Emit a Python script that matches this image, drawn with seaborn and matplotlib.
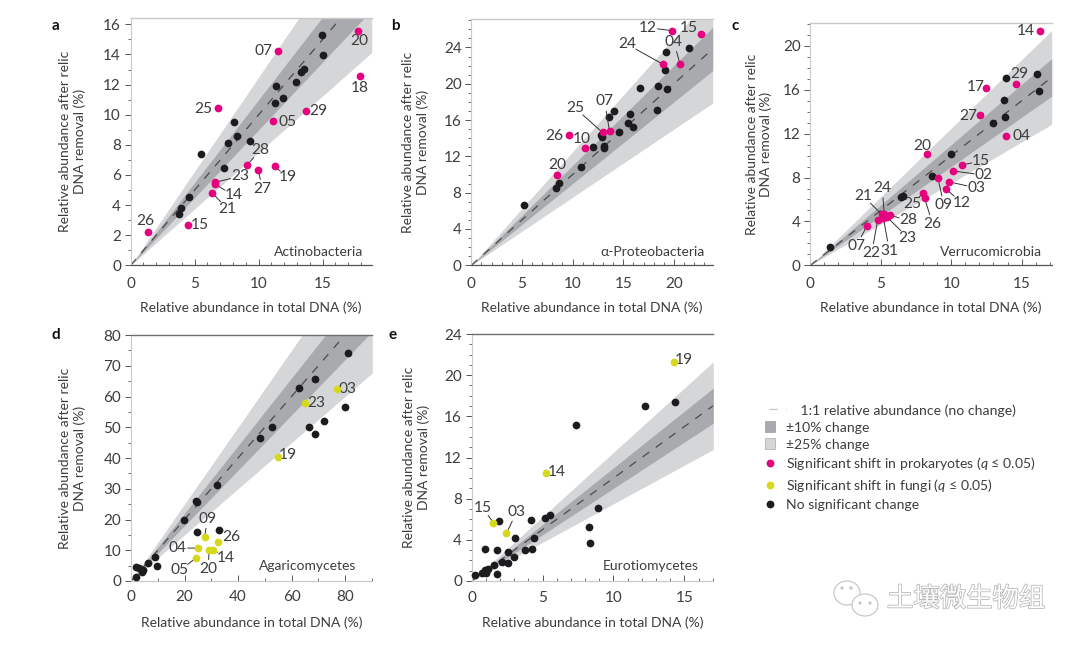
import matplotlib
matplotlib.use("Agg")
import matplotlib.pyplot as plt
import numpy as np
import pandas as pd
import seaborn as sns
from matplotlib.lines import Line2D
from matplotlib.patches import Patch, Ellipse
from matplotlib.legend_handler import HandlerLine2D
from matplotlib.ticker import MultipleLocator
import matplotlib.patheffects as pe

# ---------- data ----------
a_sig_x = [11.48, 17.76, 17.94, 6.8, 13.67, 11.15, 9.09, 11.25, 9.97, 6.59, 6.61, 6.38, 1.38, 4.45]
a_sig_y = [14.25, 15.55, 12.59, 10.42, 10.22, 9.56, 6.64, 6.57, 6.33, 5.51, 5.38, 4.8, 2.21, 2.68]
a_sig_labels = ["07", "20", "18", "25", "29", "05", "28", "19", "27", "23", "14", "21", "26", "15"]
a_ns_x = [14.92, 15, 13.54, 13.33, 12.92, 11.35, 11.93, 11.28, 8.07, 8.28, 7.6, 9.32, 5.47, 7.27, 4.58, 3.9, 3.8]
a_ns_y = [15.29, 13.98, 13.03, 12.83, 12.19, 11.92, 11.08, 10.8, 9.54, 8.58, 8.12, 8.27, 7.39, 6.46, 4.51, 3.81, 3.38]

b_sig_x = [19.8, 22.7, 18.95, 20.6, 12.96, 13.65, 9.6, 11.25, 8.45]
b_sig_y = [25.85, 25.5, 22.13, 22.17, 14.63, 14.74, 14.34, 12.9, 9.93]
b_sig_labels = ["12", "15", "24", "04", "25", "07", "26", "10", "20"]
b_ns_x = [21.45, 19.2, 19.14, 16.64, 18.39, 19.34, 18.32, 14.11, 13.59, 15.63, 15.49, 15.92, 14.6, 12.83, 12.93, 12.04, 13.06, 13.06, 10.82, 8.62, 8.39, 5.23]
b_ns_y = [23.9, 23.53, 21.47, 19.49, 19.78, 19.38, 17.1, 16.99, 16.32, 16.62, 15.7, 15.29, 14.63, 14.3, 14.15, 13.05, 13.09, 12.94, 10.81, 9.04, 8.57, 6.69]

c_sig_x = [16.32, 12.49, 14.62, 12.07, 13.89, 8.26, 10.79, 10.1, 9.06, 9.87, 9.6, 8.02, 8.11, 5.06, 5.25, 5.63, 5.42, 5.18, 4.78, 4.02]
c_sig_y = [21.37, 16.2, 16.5, 13.68, 11.79, 10.12, 9.15, 8.6, 7.93, 7.6, 6.99, 6.6, 6.14, 4.65, 4.65, 4.56, 4.44, 4.35, 4.1, 3.62]
c_sig_labels = ["14", "17", "29", "27", "04", "20", "15", "02", "09", "03", "12", "25", "26", "21", "24", "28", "23", "31", "22", "07"]
c_ns_x = [16.06, 13.86, 13.74, 16.23, 13.84, 12.96, 9.98, 8.66, 6.6, 6.46, 1.42]
c_ns_y = [17.45, 17.08, 15.08, 15.93, 13.5, 12.95, 10.12, 8.15, 6.35, 6.26, 1.67]

d_sig_x = [77.0, 65.0, 54.8, 27.5, 32.4, 25.0, 30.8, 29.2, 24.2]
d_sig_y = [62.5, 57.8, 40.2, 14.4, 12.8, 10.7, 10.2, 10.0, 7.4]
d_sig_labels = ["03", "23", "19", "09", "26", "04", "14", "20", "05"]
d_ns_x = [81.1, 68.7, 62.7, 79.9, 72.0, 52.8, 66.5, 68.8, 48.2, 32.3, 24.2, 24.7, 19.8, 24.5, 32.8, 9.1, 9.7, 6.2, 2.0, 2.9, 4.4, 4.0, 1.7]
d_ns_y = [74.3, 65.6, 62.8, 56.6, 52.1, 50.1, 50.0, 47.7, 46.4, 31.3, 25.9, 25.7, 19.7, 15.8, 16.5, 7.9, 5.0, 5.9, 4.6, 4.1, 3.5, 3.0, 1.2]

e_sig_x = [14.26, 5.25, 1.53, 2.45]
e_sig_y = [21.25, 10.53, 5.67, 4.63]
e_sig_labels = ["19", "14", "15", "03"]
e_ns_x = [14.33, 12.19, 7.34, 8.89, 5.55, 5.18, 4.19, 1.91, 8.26, 8.35, 4.38, 3.08, 4.26, 3.76, 0.92, 1.79, 2.59, 2.96, 2.14, 2.54, 1.55, 1.81, 1.13, 0.94, 1.04, 0.71, 0.21]
e_ns_y = [17.36, 16.97, 15.13, 7.09, 6.41, 6.12, 5.9, 5.83, 5.28, 3.73, 4.21, 4.18, 3.11, 2.98, 3.11, 2.98, 2.82, 2.33, 1.88, 1.75, 1.52, 0.71, 1.17, 1.04, 0.81, 0.78, 0.62]

band_10 = 0.10
band_25 = 0.25

legend_labels = ["    1:1 relative abundance (no change)", "±10% change", "±25% change",
                 r"Significant shift in prokaryotes ($q$ ≤ 0.05)",
                 r"Significant shift in fungi ($q$ ≤ 0.05)", "No significant change"]
watermark = "土壤微生物组"
xlab = "Relative abundance in total DNA (%)"
ylab = "Relative abundance after relic\nDNA removal (%)"

# ---------- layout (pixels) ----------
W, H = 1080, 647
MAGENTA, YELLOW, BLACK = "#e5007e", "#d6d81c", "#1c1c1e"
LIGHT, DARK = "#d5d6d8", "#a9aaad"
TXT = "#3d3d3d"
AXC = "#555555"
FAINT = "#c9c9c9"

sns.set_theme(style="white")
plt.rcParams["font.family"] = ["Lato", "DejaVu Sans"]
plt.rcParams["mathtext.fontset"] = "custom"
plt.rcParams["mathtext.it"] = "Lato:italic"
plt.rcParams["mathtext.rm"] = "Lato"

fig = plt.figure(figsize=(W / 100, H / 100), dpi=100, facecolor="white")


def X(px):
    return px / W


def Y(px):
    return 1 - px / H


panels = [
    dict(letter="a", name="Actinobacteria", box=(130.7, 371.7, 18.3, 265.3), xlim=18.83, ylim=16.4, xmaj=5, xmin=1, ymaj=2, ymin=1,
         sx=a_sig_x, sy=a_sig_y, nx=a_ns_x, ny=a_ns_y, labs=a_sig_labels, col=MAGENTA, lx=55.7, ly=26, ylx=72.8, xly=308, nr=363, ny_px=252, top=FAINT, bot=AXC, pad=8.5,
         off=[(-14, 0, 0), (1, -10, 0), (-1, -12, 0), (-14, -1, 0), (13, 0, 0), (14, -1, 0), (13, 15, 1), (13, -11, 1), (4, -19, 1), (25, 6, 1), (18, -11, 1), (15, -16, 1), (-3, 11, 0), (12, 0, 0)]),
    dict(letter="b", name="α-Proteobacteria", box=(471.3, 712.7, 19.3, 265.3), xlim=23.83, ylim=27.1, xmaj=5, xmin=1, ymaj=4, ymin=1,
         sx=b_sig_x, sy=b_sig_y, nx=b_ns_x, ny=b_ns_y, labs=b_sig_labels, col=MAGENTA, lx=395, ly=26, ylx=415.8, xly=308, nr=705, ny_px=252, top=FAINT, bot=AXC, pad=8.5,
         off=[(-24, 3, 1), (-12, 6, 0), (-36, 20, 1), (-6, 22, 1), (-27, 24, 1), (-5, 30, 1), (-14, -1, 0), (-3, 9, 0), (0, 10, 0)]),
    dict(letter="c", name="Verrucomicrobia", box=(810.3, 1051.7, 23.3, 265.3), xlim=17.13, ylim=22.06, xmaj=5, xmin=1, ymaj=4, ymin=1,
         sx=c_sig_x, sy=c_sig_y, nx=c_ns_x, ny=c_ns_y, labs=c_sig_labels, col=MAGENTA, lx=735, ly=26, ylx=759, xly=308, nr=1041.7, ny_px=252, top=FAINT, bot=AXC, pad=8.5,
         off=[(-14, 0, 0), (-11, 1, 0), (3, 10, 0), (-12, -1, 0), (15, 0, 0), (-4, 8, 0), (19, 4, 1), (31, -4, 1), (6, -27, 1), (27, -6, 1), (16, -14, 1), (-11, -11, 1), (8, -26, 1),
              (-18, 18, 1), (-2, 26, 1), (19, -5, 1), (21, -21, 1), (6, -33, 1), (-6, -33, 1), (-10, -20, 1)]),
    dict(letter="d", name="Agaricomycetes", box=(131, 372.3, 335, 581), xlim=90.2, ylim=80, xmaj=20, xmin=10, ymaj=10, ymin=5,
         sx=d_sig_x, sy=d_sig_y, nx=d_ns_x, ny=d_ns_y, labs=d_sig_labels, col=YELLOW, lx=55.7, ly=335, ylx=72.5, xly=623, nr=356, ny_px=565.7, top="#6e6e6e", bot=FAINT, pad=6.5,
         off=[(11, 0, 0), (11, 0, 0), (10, 2, 0), (3, 18, 1), (14, 5, 0), (-20, 0, 1), (12, -8, 1), (-1, -19, 1), (-16, -12, 1)]),
    dict(letter="e", name="Eurotiomycetes", box=(471.7, 713.3, 334, 581), xlim=17.04, ylim=24, xmaj=5, xmin=1, ymaj=4, ymin=1,
         sx=e_sig_x, sy=e_sig_y, nx=e_ns_x, ny=e_ns_y, labs=e_sig_labels, col=YELLOW, lx=393, ly=335, ylx=416.5, xly=623, nr=699, ny_px=566, top="#6e6e6e", bot=FAINT, pad=7,
         off=[(10, 2, 0), (11, 1, 0), (-11, 15, 1), (10, 21, 1)]),
]

for p in panels:
    l, r, t, b = p["box"]
    ax = fig.add_axes([X(l), Y(b), (r - l) / W, (b - t) / H])
    ax.set_xlim(0, p["xlim"])
    ax.set_ylim(0, p["ylim"])

    xs = np.array([0, p["xlim"]])
    ax.fill_between(xs, xs * (1 - band_25), xs * (1 + band_25), color=LIGHT, lw=0, zorder=1)
    ax.fill_between(xs, xs * (1 - band_10), xs * (1 + band_10), color=DARK, lw=0, zorder=1.1)

    sns.lineplot(x=xs, y=xs, ax=ax, color="#4a4a4c", lw=0.9, zorder=2, errorbar=None,
                 linestyle=(0, (6.5, 6.5)))

    ns = pd.DataFrame({"x": p["nx"], "y": p["ny"]})
    sig = pd.DataFrame({"x": p["sx"], "y": p["sy"]})
    sns.scatterplot(data=ns, x="x", y="y", ax=ax, color=BLACK, s=31, linewidth=0, zorder=3, clip_on=False)
    sns.scatterplot(data=sig, x="x", y="y", ax=ax, color=p["col"], s=31, linewidth=0, zorder=4, clip_on=False)

    for lab, sx, sy, (dx, dy, lead) in zip(p["labs"], p["sx"], p["sy"], p["off"]):
        ap = None
        if lead:
            ap = dict(arrowstyle="-", color="#333333", lw=0.7, shrinkA=7, shrinkB=0, patchA=None)
        ax.annotate(lab, xy=(sx, sy), xytext=(dx, dy), textcoords="offset pixels",
                    ha="center", va="center", fontsize=11.2, color=TXT, arrowprops=ap, zorder=3.5)

    ax.set_xlabel(xlab, fontsize=10, color=TXT, va="center")
    ax.set_ylabel(ylab, fontsize=10, color=TXT, linespacing=1.2, va="center", ha="center")
    ax.xaxis.set_label_coords(0.5, (b - p["xly"]) / (b - t))
    ax.yaxis.set_label_coords((p["ylx"] - l) / (r - l), 0.5)

    ax.xaxis.set_major_locator(MultipleLocator(p["xmaj"]))
    ax.xaxis.set_minor_locator(MultipleLocator(p["xmin"]))
    ax.yaxis.set_major_locator(MultipleLocator(p["ymaj"]))
    ax.yaxis.set_minor_locator(MultipleLocator(p["ymin"]))
    ax.tick_params(axis="x", which="major", direction="in", length=4, width=0.7, color=AXC,
                   labelsize=11, labelcolor=TXT, pad=p["pad"], bottom=True)
    ax.tick_params(axis="x", which="minor", direction="in", length=2.2, width=0.6, color=AXC, bottom=True)
    ax.tick_params(axis="y", which="major", direction="out", length=4, width=0.7, color=AXC,
                   labelsize=11, labelcolor=TXT, pad=3, left=True)
    ax.tick_params(axis="y", which="minor", direction="out", length=2.2, width=0.6, color=AXC, left=True)

    ax.spines["right"].set_visible(False)
    ax.spines["left"].set_color(FAINT)
    ax.spines["left"].set_linewidth(0.8)
    ax.spines["bottom"].set_color(p["bot"])
    ax.spines["bottom"].set_linewidth(0.9)
    ax.spines["top"].set_color(p["top"])
    ax.spines["top"].set_linewidth(1.0)

    fig.text(X(p["lx"]), Y(p["ly"]), p["letter"], fontsize=11, fontweight="bold", color="#111111",
             ha="center", va="center")
    fig.text(X(p["nr"]), Y(p["ny_px"]), p["name"], fontsize=10, color=TXT, ha="right", va="center", zorder=6)


class WideLine(HandlerLine2D):
    def create_artists(self, legend, orig, xd, yd, width, height, fontsize, trans):
        return super().create_artists(legend, orig, xd, yd, width * 2.5, height, fontsize, trans)


h_line = Line2D([], [], color="#c4c4c4", lw=0.9, linestyle=(0, (6.5, 6.5)))
handles = [h_line,
           Patch(facecolor=DARK, edgecolor="#9a9a9c", lw=0.5),
           Patch(facecolor=LIGHT, edgecolor="#a8a8a8", lw=0.5),
           Line2D([], [], color=MAGENTA, marker="o", ms=4.6, lw=0),
           Line2D([], [], color=YELLOW, marker="o", ms=4.6, lw=0),
           Line2D([], [], color=BLACK, marker="o", ms=4.6, lw=0)]
fig.legend(handles, legend_labels, handler_map={h_line: WideLine(numpoints=2)},
           loc="upper left", bbox_to_anchor=(X(765), Y(404)), frameon=False, fontsize=10.1,
           labelcolor=TXT, handlelength=0.72, handleheight=0.85, handletextpad=0.78,
           labelspacing=0.33, borderpad=0, borderaxespad=0)

# watermark
fig.text(X(966), Y(599), watermark, fontsize=19, family=["Noto Sans CJK SC", "DejaVu Sans"], color="white",
         ha="center", va="center", path_effects=[pe.withStroke(linewidth=1.1, foreground="#b5b5b5")])
for cx, cy, rx, ry in [(847, 593, 13, 12), (865, 605, 13, 11), (842, 588, 1, 1), (851, 588, 1, 1), (860, 603, 1, 1), (870, 603, 1, 1)]:
    fig.add_artist(Ellipse((X(cx), Y(cy)), 2 * rx / W, 2 * ry / H, transform=fig.transFigure,
                           facecolor="white" if rx > 2 else "#c2c2c2", edgecolor="#c2c2c2", lw=0.8))

fig.savefig("out.png", dpi=100)
